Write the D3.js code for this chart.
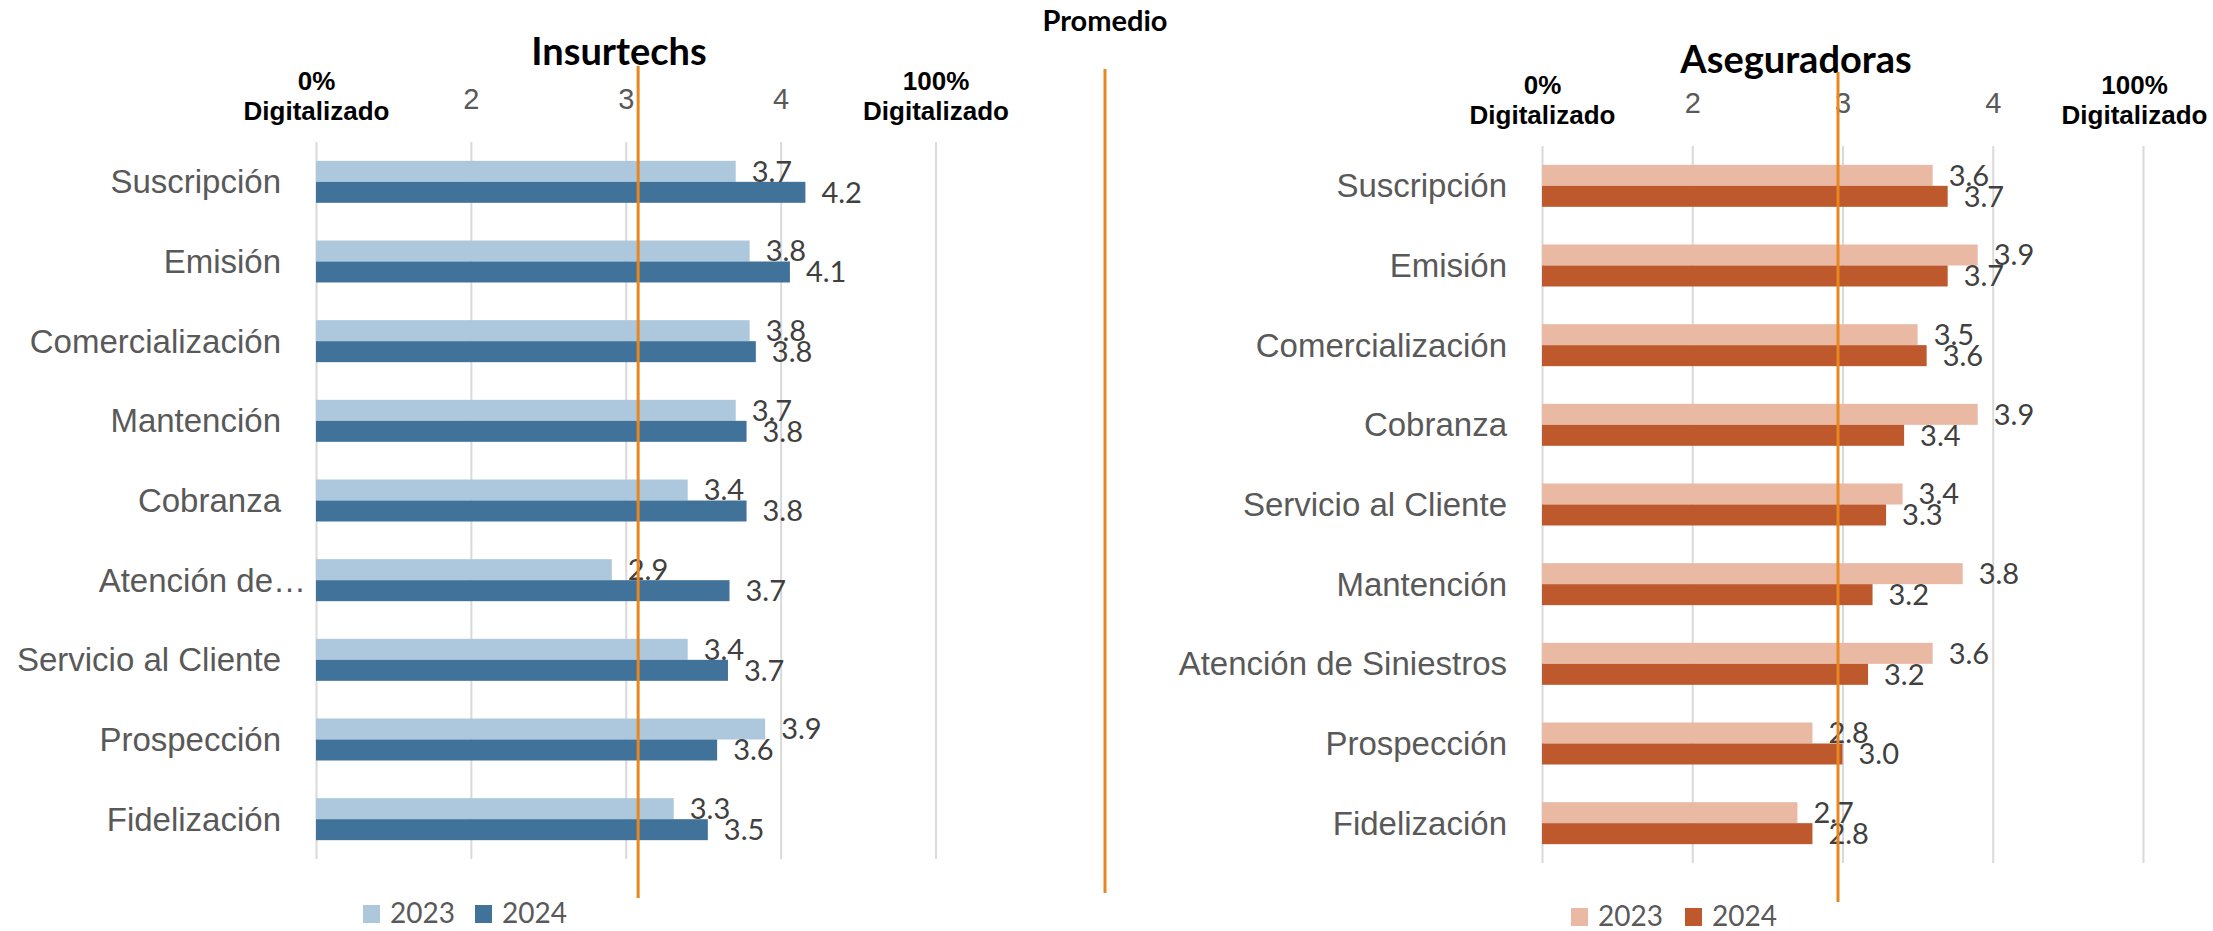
<!DOCTYPE html>
<html>
<head>
<meta charset="utf-8">
<script src="https://cdn.jsdelivr.net/npm/d3@7"></script>
<style>
  body { margin: 0; background: #fff; }
  svg { display: block; font-family: Lato, "Open Sans", sans-serif; }
</style>
</head>
<body>
<div id="chart"></div>
<script>
const years = ["2023", "2024"];
const tickValues = [1, 2, 3, 4, 5];
const tickLabels = { 1: ["0%", "Digitalizado"], 5: ["100%", "Digitalizado"] };
const promedioLabel = "Promedio";

const insurtechCategories = [
  "Suscripción", "Emisión", "Comercialización", "Mantención", "Cobranza",
  "Atención de Siniestros", "Servicio al Cliente", "Prospección", "Fidelización"
];
const insurtech2023 = [3.71, 3.80, 3.80, 3.71, 3.40, 2.91, 3.40, 3.90, 3.31];
const insurtech2024 = [4.16, 4.06, 3.84, 3.78, 3.78, 3.67, 3.66, 3.59, 3.53];
const insurtechPromedio = 3.08;

const aseguradoraCategories = [
  "Suscripción", "Emisión", "Comercialización", "Cobranza", "Servicio al Cliente",
  "Mantención", "Atención de Siniestros", "Prospección", "Fidelización"
];
const aseguradora2023 = [3.60, 3.90, 3.50, 3.90, 3.40, 3.80, 3.60, 2.80, 2.70];
const aseguradora2024 = [3.70, 3.70, 3.56, 3.41, 3.29, 3.20, 3.17, 3.00, 2.80];
const aseguradoraPromedio = 2.97;

const width = 2213;
const height = 931;
const orange = "#E8871E";
const gridColor = "#D9D9D9";

const svg = d3.select("#chart").append("svg")
  .attr("width", width)
  .attr("height", height)
  .attr("viewBox", [0, 0, width, height]);

function drawPanel(opts) {
  const g = svg.append("g");

  const x = d3.scaleLinear().domain([1, 5]).range([opts.x0, opts.x1]);
  const y = d3.scaleBand()
    .domain(opts.categories)
    .range([opts.top, opts.bottom])
    .paddingInner(0.473)
    .paddingOuter(0.2365);
  const ySub = d3.scaleBand().domain(years).range([0, y.bandwidth()]);

  const rows = opts.categories.map((c, i) => ({
    category: c,
    values: [opts.v2023[i], opts.v2024[i]]
  }));

  // gridlines
  g.append("g")
    .attr("transform", `translate(0,${opts.top})`)
    .call(d3.axisTop(x).tickValues(tickValues).tickSize(-(opts.bottom - opts.top)).tickFormat(""))
    .call(a => a.select(".domain").remove())
    .call(a => a.selectAll("line").attr("stroke", gridColor).attr("stroke-width", 2));

  // tick labels
  const ticks = g.append("g")
    .attr("transform", `translate(0,${opts.top - 33})`)
    .call(d3.axisTop(x).tickValues(tickValues).tickSize(0).tickPadding(0).tickFormat(d => d))
    .call(a => a.select(".domain").remove());

  ticks.selectAll("text")
    .attr("y", 0)
    .attr("dy", null)
    .attr("font-family", null)
    .attr("font-size", 29)
    .attr("fill", "#595959")
    .each(function (d) {
      const lines = tickLabels[d];
      if (!lines) return;
      const t = d3.select(this)
        .text(null)
        .attr("font-size", 26)
        .attr("fill", "#000")
        .attr("font-weight", "bold");
      lines.forEach((line, i) => {
        t.append("tspan")
          .attr("x", 0)
          .attr("y", i === 0 ? -19 : 11)
          .text(line);
      });
      // keep the label inside the picture
      const box = this.getBBox();
      const right = x(d) + box.x + box.width;
      if (right > width - 6) {
        t.attr("transform", `translate(${width - 6 - right},0)`);
      }
    });

  // category labels
  g.append("g")
    .attr("transform", `translate(${opts.x0},0)`)
    .call(d3.axisLeft(y).tickSize(0).tickPadding(35))
    .call(a => a.select(".domain").remove())
    .call(a => a.selectAll("text")
      .attr("font-family", null)
      .attr("font-size", 33)
      .attr("fill", "#595959")
      .attr("dy", "0.35em")
      .each(function () {
        const t = d3.select(this);
        if (this.getComputedTextLength() <= opts.labelWidth) return;
        let words = t.text().split(" ");
        while (words.length > 1) {
          words.pop();
          t.text(words.join(" ") + "…");
          if (this.getComputedTextLength() <= opts.labelWidth) break;
        }
        t.attr("x", -10);
      }));

  // bars
  const groups = g.append("g")
    .selectAll("g")
    .data(rows)
    .join("g")
      .attr("transform", d => `translate(0,${y(d.category)})`);

  groups.selectAll("rect")
    .data(d => d.values.map((v, i) => ({ year: years[i], value: v })))
    .join("rect")
      .attr("x", x(1))
      .attr("y", d => ySub(d.year))
      .attr("width", d => x(d.value) - x(1))
      .attr("height", ySub.bandwidth())
      .attr("fill", d => d.year === "2023" ? opts.light : opts.dark);

  groups.selectAll("text")
    .data(d => d.values.map((v, i) => ({ year: years[i], value: v })))
    .join("text")
      .attr("x", d => x(d.value) + 16)
      .attr("y", d => ySub(d.year) + ySub.bandwidth() / 2)
      .attr("dy", "0.36em")
      .attr("font-size", 29)
      .attr("fill", "#404040")
      .text(d => d.value.toFixed(1));

  // title
  g.append("text")
    .attr("x", opts.titleX)
    .attr("y", opts.titleY)
    .attr("text-anchor", "middle")
    .attr("font-size", 38)
    .attr("font-weight", "bold")
    .attr("fill", "#000")
    .text(opts.title);

  // legend
  const legend = g.append("g")
    .attr("transform", `translate(${opts.legendX},${opts.legendY})`)
    .selectAll("g")
    .data(years)
    .join("g")
      .attr("transform", (d, i) => `translate(${i * opts.legendStep},0)`);

  legend.append("rect")
    .attr("width", 17)
    .attr("height", 18)
    .attr("fill", d => d === "2023" ? opts.light : opts.dark);

  legend.append("text")
    .attr("x", 27)
    .attr("y", 18)
    .attr("font-size", 28)
    .attr("fill", "#595959")
    .text(d => d);

  // average line
  g.append("line")
    .attr("x1", x(opts.promedio))
    .attr("x2", x(opts.promedio))
    .attr("y1", opts.avgTop)
    .attr("y2", opts.avgBottom)
    .attr("stroke", orange)
    .attr("stroke-width", 3);
}

drawPanel({
  title: "Insurtechs",
  categories: insurtechCategories,
  v2023: insurtech2023,
  v2024: insurtech2024,
  promedio: insurtechPromedio,
  light: "#ADC8DD",
  dark: "#41739A",
  x0: 316, x1: 935.5, top: 142, bottom: 859,
  labelWidth: 270,
  titleX: 619, titleY: 65,
  avgTop: 66, avgBottom: 898,
  legendX: 363, legendY: 905, legendStep: 112
});

drawPanel({
  title: "Aseguradoras",
  categories: aseguradoraCategories,
  v2023: aseguradora2023,
  v2024: aseguradora2024,
  promedio: aseguradoraPromedio,
  light: "#E9B9A4",
  dark: "#BD592D",
  x0: 1542, x1: 2143, top: 146, bottom: 863,
  labelWidth: 420,
  titleX: 1796, titleY: 73,
  avgTop: 72, avgBottom: 902,
  legendX: 1571, legendY: 908, legendStep: 114
});

// Promedio key
const key = svg.append("g");
key.append("text")
  .attr("x", 1105)
  .attr("y", 31)
  .attr("text-anchor", "middle")
  .attr("font-size", 29)
  .attr("font-weight", "bold")
  .attr("fill", "#000")
  .text(promedioLabel);
key.append("line")
  .attr("x1", 1105)
  .attr("x2", 1105)
  .attr("y1", 69)
  .attr("y2", 893)
  .attr("stroke", orange)
  .attr("stroke-width", 3);
</script>
</body>
</html>
